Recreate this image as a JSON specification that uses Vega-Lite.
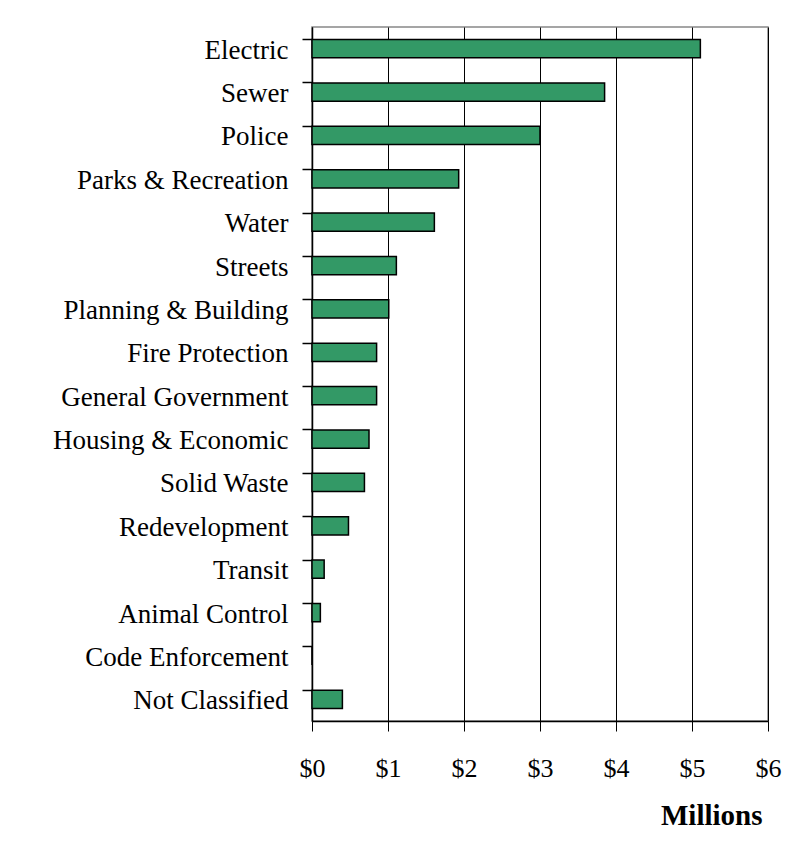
{
  "$schema": "https://vega.github.io/schema/vega-lite/v6.json",
  "autosize": "none",
  "padding": {"left": 312, "top": 27, "right": 38, "bottom": 129},
  "width": 456,
  "height": 694,
  "background": "white",
  "data": {
    "values": [
      {"category": "Electric", "value": 5.11},
      {"category": "Sewer", "value": 3.85},
      {"category": "Police", "value": 3.0},
      {"category": "Parks & Recreation", "value": 1.93},
      {"category": "Water", "value": 1.61},
      {"category": "Streets", "value": 1.11},
      {"category": "Planning & Building", "value": 1.01},
      {"category": "Fire Protection", "value": 0.85},
      {"category": "General Government", "value": 0.85},
      {"category": "Housing & Economic", "value": 0.75},
      {"category": "Solid Waste", "value": 0.69},
      {"category": "Redevelopment", "value": 0.48},
      {"category": "Transit", "value": 0.16},
      {"category": "Animal Control", "value": 0.11},
      {"category": "Code Enforcement", "value": 0},
      {"category": "Not Classified", "value": 0.4}
    ]
  },
  "mark": {"type": "bar", "color": "#339966", "stroke": "black", "strokeWidth": 1.5},
  "encoding": {
    "y": {
      "field": "category",
      "type": "nominal",
      "sort": null,
      "scale": {"paddingInner": 0.58, "paddingOuter": 0.29},
      "axis": {
        "title": null,
        "bandPosition": 0,
        "domainColor": "black",
        "domainWidth": 1.5,
        "tickColor": "black",
        "tickSize": 10,
        "tickWidth": 1.5,
        "labelPadding": 14,
        "labelLimit": 320,
        "labelFont": "Liberation Serif",
        "labelFontSize": 27,
        "labelColor": "black",
        "labelBaseline": "middle",
        "labelOffset": 2
      }
    },
    "x": {
      "field": "value",
      "type": "quantitative",
      "scale": {"domain": [0, 6], "nice": false},
      "axis": {
        "values": [0, 1, 2, 3, 4, 5, 6],
        "labelExpr": "'$' + datum.value",
        "labelFlush": false,
        "grid": true,
        "gridColor": "black",
        "gridOpacity": 1,
        "gridWidth": 1,
        "domainColor": "black",
        "domainWidth": 1.5,
        "tickColor": "black",
        "tickSize": 10,
        "tickWidth": 1,
        "labelPadding": 24,
        "labelFont": "Liberation Serif",
        "labelFontSize": 26,
        "labelColor": "black",
        "title": "Millions",
        "titleFont": "Liberation Serif",
        "titleFontSize": 29,
        "titleFontWeight": "bold",
        "titleColor": "black",
        "titleAnchor": "end",
        "titleAlign": "right",
        "titleX": 450,
        "titlePadding": 20
      }
    }
  },
  "config": {
    "view": {"stroke": "#888888", "strokeWidth": 1.5}
  }
}
